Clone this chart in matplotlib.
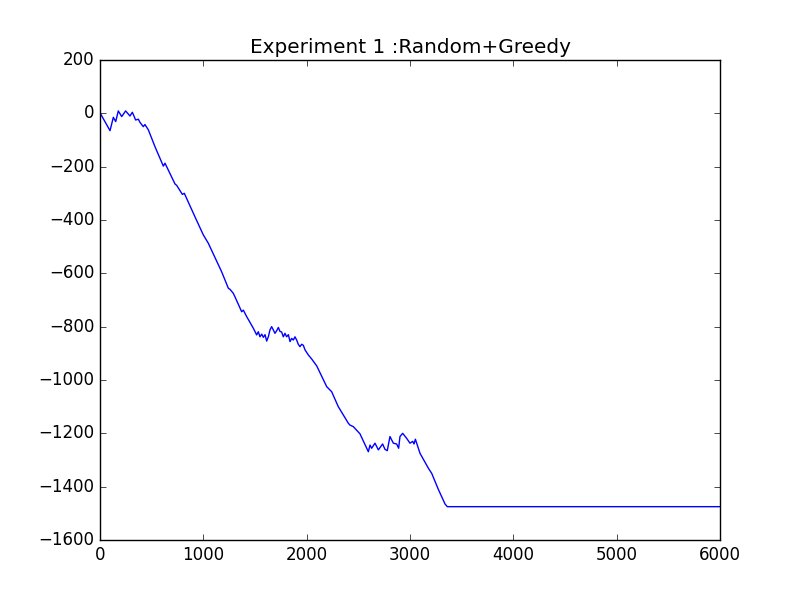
import matplotlib
matplotlib.use("Agg")
import matplotlib.pyplot as plt

plt.style.use("classic")

# points (iteration, score cumule)
iterations = [0, 97, 129, 152, 177, 210, 248, 290, 313, 345, 371, 387, 419, 435, 468,
              532, 613, 629, 726, 742, 797, 816, 919, 1000, 1048, 1177, 1242, 1258,
              1290, 1306, 1371, 1387, 1419, 1484, 1516, 1532, 1548, 1565, 1581, 1597,
              1613, 1629, 1645, 1661, 1677, 1693, 1710, 1726, 1742, 1758, 1774, 1790,
              1806, 1823, 1839, 1855, 1871, 1887, 1903, 1919, 1935, 1952, 1968, 1984,
              2016, 2048, 2097, 2194, 2242, 2306, 2403, 2419, 2452, 2516, 2597, 2613,
              2629, 2661, 2694, 2735, 2758, 2780, 2806, 2839, 2871, 2890, 2903, 2929,
              2968, 3000, 3026, 3039, 3052, 3097, 3178, 3210, 3274, 3339, 3361, 6000]
score = [2, -65, -15, -31, 9, -12, 9, -10, 4, -25, -22, -34, -50, -42, -62,
         -125, -198, -187, -265, -270, -304, -300, -388, -456, -487, -594, -656, -660,
         -675, -688, -744, -738, -762, -806, -831, -819, -838, -828, -840, -830,
         -854, -838, -812, -800, -812, -825, -815, -803, -818, -820, -838, -825,
         -838, -830, -856, -844, -850, -838, -850, -866, -875, -866, -870, -887,
         -906, -921, -947, -1025, -1044, -1100, -1162, -1169, -1175, -1202, -1269, -1244,
         -1256, -1237, -1262, -1240, -1260, -1265, -1212, -1237, -1240, -1256, -1212, -1200,
         -1219, -1237, -1230, -1240, -1222, -1275, -1331, -1350, -1410, -1465, -1475, -1475]

plt.figure(figsize=(8, 6), dpi=100)
plt.plot(iterations, score, color="b")
plt.title("Experiment 1 :Random+Greedy")
plt.xlim(0, 6000)
plt.ylim(-1600, 200)
plt.savefig("out.png", dpi=100, facecolor="white")
